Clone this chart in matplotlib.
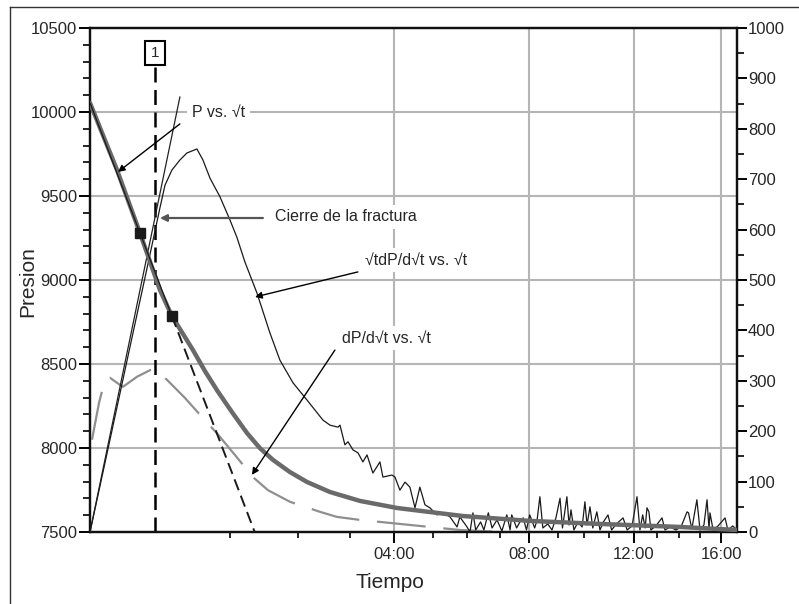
import numpy as np
import matplotlib
matplotlib.use("Agg")
import matplotlib.pyplot as plt
from matplotlib.ticker import FixedLocator, MultipleLocator
from matplotlib.lines import Line2D

plt.rcParams['font.family'] = ['Liberation Sans', 'DejaVu Sans']

# ---------------- data (x = sqrt(time in hours)) ----------------
p_time = [0.144, 0.309, 0.449, 0.571, 0.644, 0.712, 0.773, 0.846, 0.919, 1.011, 1.103,
          1.182, 1.262, 1.365, 1.469, 1.610, 1.793, 2.019, 2.220, 2.423, 2.831, 3.259,
          3.748, 4.096]
p_values = [10054, 9655, 9280, 8941, 8786, 8679, 8583, 8458, 8345, 8214, 8089,
            7999, 7929, 7857, 7798, 7738, 7685, 7643, 7619, 7595, 7566, 7548,
            7530, 7512]

tan_p_time = [0.144, 0.644, 1.150]
tan_p_values = [10054, 8786, 7500]
marker_time = [0.449, 0.644]
marker_p = [9280, 8786]

sdp_time = [0.144, 0.266, 0.388, 0.510, 0.571, 0.602, 0.644, 0.693, 0.736, 0.767, 0.797,
            0.834, 0.877, 0.938, 0.999, 1.041, 1.090, 1.164, 1.243, 1.304, 1.384, 1.469,
            1.567, 1.610, 1.659, 1.671, 1.701, 1.720, 1.750, 1.781, 1.811, 1.836, 1.872,
            1.915, 1.933, 1.988, 2.007, 2.037, 2.068, 2.098, 2.129, 2.159, 2.190, 2.220,
            2.263, 2.300, 2.343, 2.386, 2.403, 2.447, 2.465, 2.483, 2.50, 2.53, 2.55,
            2.577, 2.60, 2.63, 2.66, 2.69, 2.71, 2.72, 2.75, 2.77, 2.79, 2.81, 2.83,
            2.86, 2.875, 2.892, 2.91, 2.94, 2.966, 2.99, 3.015, 3.03, 3.057, 3.07, 3.082,
            3.10, 3.125, 3.15, 3.167, 3.18, 3.198, 3.215, 3.24, 3.259, 3.28, 3.308, 3.33,
            3.36, 3.40, 3.425, 3.455, 3.485, 3.503, 3.52, 3.535, 3.546, 3.558, 3.57, 3.60,
            3.638, 3.656, 3.687, 3.723, 3.754, 3.791, 3.80, 3.82, 3.851, 3.87, 3.894,
            3.913, 3.925, 3.931, 3.95, 3.98, 4.023, 4.04, 4.07, 4.096]
sdp_values = [0, 183, 367, 550, 643, 688, 718, 738, 752, 756, 760,
              738, 702, 665, 619, 585, 536, 474, 395, 341, 296, 262,
              222, 212, 208, 212, 173, 179, 163, 157, 139, 153, 117,
              139, 109, 113, 109, 83, 99, 89, 48, 89, 54, 48,
              34, 38, 30, 10, 30, 10, 0, 38, 4, 20, 4,
              38, 8, 24, 2, 34, 4, 34, 8, 20, 28, 4, 34,
              8, 24, 70, 8, 16, 4, 28, 67, 8, 70, 14, 44,
              4, 20, 10, 60, 14, 50, 8, 40, 4, 20, 34, 4,
              16, 28, 4, 12, 70, 4, 34, 8, 48, 40, 4, 12,
              28, 4, 10, 4, 10, 40, 38, 6, 64, 4, 14,
              64, 6, 38, 4, 12, 28, 4, 12, 4]

tan_sdp_time = [0.144, 0.693]
tan_sdp_values = [0, 863]

dp_time = [0.156, 0.199, 0.235, 0.266, 0.309, 0.345, 0.388, 0.431, 0.510, 0.541,
           0.614, 0.724, 0.834, 0.919, 1.029, 1.139, 1.231, 1.365, 1.549, 1.652,
           1.793, 1.976, 2.098, 2.25, 2.403, 2.60]
dp_values = [183, 256, 302, 306, 296, 288, 298, 308, 321, 323,
             302, 266, 226, 196, 153, 109, 83, 60, 40, 30,
             24, 18, 14, 9, 4, 1]

closure_time = 0.541
xtick_hours = [4, 8, 12, 16]
xtick_labels = ["04:00", "08:00", "12:00", "16:00"]
minor_hours = [h for h in range(1, 17) if h not in xtick_hours]

# ---------------- figure ----------------
fig = plt.figure(figsize=(7.99, 6.04), dpi=100)
ax = fig.add_axes([90/799, 1-532/604, (737-90)/799, (532-28)/604])
ax2 = ax.twinx()

xmin, xmax = 0.144, 4.096
ax.set_xlim(xmin, xmax)
ax.set_ylim(7500, 10500)
ax2.set_ylim(0, 1000)

txt_col = '#262626'
grid_col = '#b5b5b5'

# grid
ax.set_axisbelow(True)
ax.yaxis.set_major_locator(MultipleLocator(500))
ax.yaxis.set_minor_locator(MultipleLocator(100))
ax.xaxis.set_major_locator(FixedLocator(np.sqrt(xtick_hours)))
ax.xaxis.set_minor_locator(FixedLocator(np.sqrt(minor_hours)))
ax.set_xticklabels(xtick_labels)
ax.grid(True, which='major', color=grid_col, lw=1.5)
ax2.yaxis.set_major_locator(MultipleLocator(100))
ax2.yaxis.set_minor_locator(MultipleLocator(50))

for a in (ax, ax2):
    for s in a.spines.values():
        s.set_linewidth(1.6)
        s.set_color('#111111')
ax.tick_params(axis='y', which='major', length=8, width=1.4, pad=1, labelsize=12, labelcolor=txt_col)
ax.tick_params(axis='y', which='minor', length=5, width=1.2)
ax.tick_params(axis='x', which='major', length=8, width=1.4, pad=3, labelsize=12, labelcolor=txt_col)
ax.tick_params(axis='x', which='minor', length=4, width=1.2)
ax2.tick_params(axis='y', which='major', length=7, width=1.4, pad=1, labelsize=12, labelcolor=txt_col)
ax2.tick_params(axis='y', which='minor', length=5, width=1.2)

# closure vertical dashed line
ax.plot([closure_time, closure_time], [7500, 10445], color='black', lw=1.8,
        dashes=(6, 3), zorder=3)
ax.text(closure_time, 10351, "1", ha='center', va='center', fontsize=11, color=txt_col,
        bbox=dict(boxstyle='square,pad=0.35', fc='white', ec='black', lw=1.5), zorder=6)

# derivative curves (right axis)
ax2.plot(dp_time, dp_values, color='#8f8f8f', lw=1.6, dashes=(22, 8), zorder=2)
ax2.plot(tan_sdp_time, tan_sdp_values, color='#222222', lw=0.9, zorder=3)
ax2.plot(sdp_time, sdp_values, color='#1a1a1a', lw=0.9, zorder=3)

# pressure curve & tangent (left-axis coordinates)
trans = ax.transData
ax2.plot(p_time, p_values, color='#6a6a6a', lw=3.2, transform=trans, zorder=4,
         solid_capstyle='round', solid_joinstyle='round')
ax2.plot(tan_p_time[:2], tan_p_values[:2], color='#1a1a1a', lw=0.9, transform=trans, zorder=5)
ax2.plot(tan_p_time[1:], tan_p_values[1:], color='#1a1a1a', lw=1.4, dashes=(6, 3),
         transform=trans, zorder=5)
ax2.plot(marker_time, marker_p, ls='none', marker='s', ms=7, color='#1a1a1a',
         transform=trans, zorder=6)

# annotations (left-axis coordinates)
def label(x, y, s):
    ax.text(x, y, s, ha='left', va='center', fontsize=11.5, color=txt_col,
            bbox=dict(boxstyle='square,pad=0.3', fc='white', ec='none'), zorder=3)

def arrow(x0, y0, x1, y1, col='black', lw=1.0):
    ax2.annotate("", xy=(x1, y1), xytext=(x0, y0), xycoords=trans, textcoords=trans,
                 arrowprops=dict(arrowstyle='-|>', color=col, lw=lw, mutation_scale=10,
                                 shrinkA=0, shrinkB=0), zorder=7)

label(0.767, 10000, "P vs. √t")
arrow(0.693, 9929, 0.315, 9643)
label(1.274, 9375, "Cierre de la fractura")
arrow(1.200, 9369, 0.571, 9369, col='#555555', lw=1.6)
label(1.823, 9119, "√tdP/d√t vs. √t")
arrow(1.780, 9048, 1.152, 8899)
label(1.683, 8655, "dP/d√t vs. √t")
arrow(1.640, 8583, 1.133, 7840)

# axis labels
fig.text(28/799, 1-282/604, "Presion", rotation=90, ha='center', va='center',
         fontsize=15, color=txt_col)
fig.text(390/799, 1-583/604, "Tiempo", ha='center', va='center', fontsize=15, color=txt_col)

# outer frame
fig.add_artist(Line2D([10/799, 10/799], [0, 1-7/604], transform=fig.transFigure,
                      color='#333333', lw=1.0))
fig.add_artist(Line2D([10/799, 1], [1-7/604, 1-7/604], transform=fig.transFigure,
                      color='#333333', lw=1.0))

fig.savefig("out.png", dpi=100)
